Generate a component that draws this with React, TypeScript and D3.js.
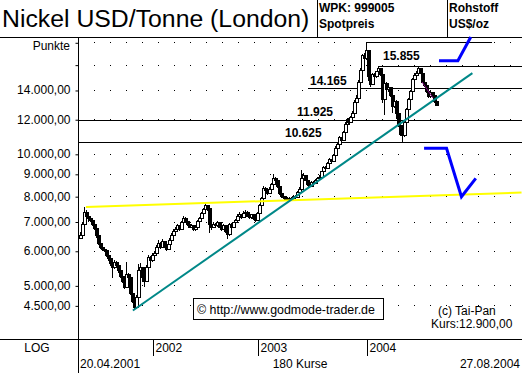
import React from 'react';
import * as d3 from 'd3';

// Nickel USD/Tonne (London), weekly, 20.04.2001 - 27.08.2004, 180 Kurse
const firstOpen = 6400;
const closes = [
  6500, 6900, 7350, 7200, 7100, 7050, 6900, 6750, 6500, 6250,
  6100, 6050, 6000, 5850, 5750, 5600, 5500, 5650, 5550, 5400,
  5250, 5100, 4950, 5300, 5200, 4800, 4600, 4450, 4700, 5400,
  5500, 5200, 5100, 5500, 5800, 5700, 5850, 5900, 6100, 6250,
  6100, 6300, 6150, 6050, 6200, 6350, 6500, 6650, 6700, 6850,
  6700, 6950, 7100, 7000, 6900, 6800, 6850, 6700, 6800, 7000,
  7100, 7300, 7450, 7600, 7500, 6900, 6800, 6900, 6850, 6950,
  6800, 6700, 6850, 6650, 6550, 6900, 6800, 6950, 7050, 7200,
  7250, 7150, 7300, 7350, 7200, 7150, 7250, 7100, 7050, 7300,
  7600, 7900, 8350, 8250, 8100, 8300, 8500, 8800, 8700, 8400,
  8100, 8000, 7950, 7850, 7900, 7800, 7900, 8000, 7950, 8150,
  8300, 8800, 8900, 8700, 8500, 8400, 8600, 8550, 8700, 8800,
  8850, 9100, 9300, 9250, 9500, 9700, 9600, 9900, 10300, 10500,
  10900, 10750, 11200, 11700, 12000, 11800, 12100, 12400, 13100, 13400,
  14600, 15500, 16800, 16500, 17200, 15000, 14400, 15200, 15000, 15400,
  15700, 15200, 13300, 14500, 14000, 14200, 13600, 12800, 13200, 12400,
  11600, 11100, 11000, 11800, 12600, 13300, 13900, 14800, 15100, 15300,
  15700, 15300, 14600, 14300, 13900, 13500, 13800, 13600, 13200, 12900,
];
const highs = [
  6620, 6980, 7550, 7420, 7250, 7180, 7080, 6920, 6780, 6520,
  6280, 6150, 6100, 6020, 5900, 5780, 5650, 5720, 5700, 5580,
  5420, 5280, 5120, 5650, 5350, 5220, 4850, 4650, 4750, 5600,
  5620, 5520, 5250, 5560, 5880, 5850, 5920, 6000, 6180, 6350,
  6280, 6380, 6320, 6200, 6260, 6420, 6580, 6720, 6800, 6920,
  6880, 7020, 7200, 7150, 7050, 6950, 6920, 6880, 6850, 7050,
  7180, 7350, 7520, 7700, 7650, 7520, 6980, 6980, 6950, 7020,
  6980, 6850, 6900, 6880, 6700, 6950, 6950, 7000, 7100, 7280,
  7350, 7300, 7380, 7420, 7380, 7250, 7300, 7280, 7150, 7350,
  7680, 7980, 8420, 8400, 8300, 8380, 8580, 9000, 8850, 8750,
  8450, 8150, 8050, 8000, 7980, 7950, 7960, 8050, 8050, 8200,
  8380, 9200, 9050, 8950, 8750, 8550, 8650, 8650, 8750, 8850,
  8950, 9150, 9380, 9400, 9560, 9780, 9750, 9980, 10400, 10600,
  11000, 10950, 11300, 11800, 12100, 12050, 12200, 12500, 13250, 13600,
  14750, 15700, 16900, 17000, 18000, 17300, 15100, 15300, 15300, 15500,
  15855, 15750, 15250, 14600, 14600, 14300, 14250, 13650, 13300, 13250,
  12450, 11700, 11300, 11900, 12700, 13400, 14000, 14900, 15300, 15500,
  15855, 15750, 15350, 14700, 14350, 13950, 13900, 13850, 13650, 13250,
];
const lows = [
  6380, 6450, 6850, 7100, 7000, 6980, 6850, 6700, 6420, 6200,
  6050, 5980, 5950, 5800, 5700, 5550, 5200, 5450, 5480, 5350,
  5200, 5050, 4900, 4920, 5050, 4750, 4550, 4400, 4420, 4680,
  5300, 5100, 4950, 5080, 5450, 5620, 5650, 5800, 5880, 6050,
  6050, 6080, 6100, 5980, 6020, 6180, 6320, 6480, 6600, 6680,
  6650, 6680, 6920, 6950, 6850, 6750, 6750, 6650, 6650, 6780,
  6950, 7080, 7280, 7420, 7400, 6600, 6700, 6750, 6780, 6800,
  6750, 6650, 6680, 6600, 6400, 6500, 6750, 6780, 6920, 7020,
  7150, 7100, 7120, 7250, 7150, 7080, 7100, 7050, 6980, 7020,
  7280, 7580, 7880, 8150, 8050, 8080, 8280, 8480, 8600, 8350,
  8050, 7920, 7880, 7780, 7800, 7750, 7780, 7880, 7900, 7920,
  8120, 8280, 8750, 8650, 8450, 8350, 8380, 8480, 8520, 8680,
  8750, 8820, 9080, 9150, 9220, 9450, 9500, 9580, 9880, 10250,
  10450, 10600, 10700, 11150, 11650, 11700, 11750, 12050, 12350, 13000,
  13350, 14500, 15400, 16300, 16400, 14700, 14200, 14350, 14850, 14950,
  15350, 15100, 13100, 12300, 13900, 13850, 13500, 12400, 12750, 12000,
  11500, 11000, 10625, 10950, 11750, 12550, 13250, 13850, 14750, 15050,
  15250, 15200, 14500, 14200, 13800, 13400, 13450, 13500, 13100, 12850,
];

// y axis
const tickValues = [18000, 16000, 14000, 12000, 10000, 9000, 8000, 7000, 6000, 5000, 4500];
const tickLabels = ['', '', '14.000,00', '12.000,00', '10.000,00', '9.000,00',
  '8.000,00', '7.000,00', '6.000,00', '5.000,00', '4.500,00'];

// marked price levels (start / end as candle index, null = from the axis)
const levelValues = [18000, 15855, 14165, 11925, 10625];
const levelLabels = ['', '15.855', '14.165', '11.925', '10.625'];
const levelStart = [144, 150, 114, null, null];
const levelEnd = [207, 222, 222, 222, 222];

// years on the time bar
const yearLabels = ['2002', '2003', '2004'];
const yearIndex = [36.7, 89.4, 144.2];

// drawn lines: [candle index, price]
const tealLine = [[26.6, 4380], [197.3, 15300]];
const yellowLine = [[3, 7555], [222, 8155]];
const purpleLine = [[172, 14600], [177.5, 13420]];
const blueUp = [[180.5, 16330], [190, 16330], [196.5, 18508]];
const blueDown = [[173, 10295], [184.3, 10295], [191.8, 7974], [199, 8789]];

const FONT = 'Arial, "Liberation Sans", sans-serif';

export default class App extends React.Component {
  svgRef = React.createRef<SVGSVGElement>();

  componentDidMount(): void {
    this.drawChart();
  }

  render() {
    return (
      <svg ref={this.svgRef} width={522} height={373}
        style={{position: 'absolute', left: 0, top: 0, background: '#fff'}}>
      </svg>
    );
  }

  drawChart() {
    const width = 522;
    const axisX = 78.5;
    const plotTop = 37;
    const plotBottom = 339;

    const svg = d3.select(this.svgRef.current);
    svg.selectAll('*').remove();
    svg.style('font-family', FONT);

    const x = d3.scaleLinear()
        .domain([0, closes.length - 1])
        .range([80, 436]);
    const y = d3.scaleLog()
        .domain([3769, 18508])
        .range([plotBottom, plotTop]);
    const px = (i: number) => Math.round(x(i)) + 0.5;
    const py = (v: number) => Math.round(y(v)) + 0.5;

    svg.append('rect')
        .attr('width', width)
        .attr('height', 373)
        .attr('fill', '#fff');

    // header
    svg.append('text')
        .attr('x', 2)
        .attr('y', 27)
        .attr('font-size', 24.8)
        .text('Nickel USD/Tonne (London)');
    const header = [['WPK: 999005', 319, 11.5], ['Spotpreis', 319, 28],
      ['Rohstoff', 449, 11.5], ['US$/oz', 449, 28]];
    header.forEach((h: any) => {
      svg.append('text')
          .attr('x', h[1])
          .attr('y', h[2])
          .attr('font-size', 12)
          .attr('font-weight', 'bold')
          .text(h[0]);
    });
    [317.5, 447.5].forEach((sx) => {
      svg.append('line')
          .attr('x1', sx).attr('x2', sx)
          .attr('y1', 0).attr('y2', plotTop)
          .attr('stroke', '#000');
    });
    svg.append('line')
        .attr('x1', 0).attr('x2', width)
        .attr('y1', plotTop + 0.5).attr('y2', plotTop + 0.5)
        .attr('stroke', '#000');

    // dotted grid rows
    tickValues.forEach((v) => {
      svg.append('line')
          .attr('x1', 94).attr('x2', width)
          .attr('y1', py(v)).attr('y2', py(v))
          .attr('stroke', '#000')
          .attr('stroke-dasharray', '1 15');
    });

    // price levels
    levelValues.forEach((v, k) => {
      const x1 = levelStart[k] === null ? axisX : px(levelStart[k] as number);
      svg.append('line')
          .attr('x1', x1).attr('x2', Math.min(width, x(levelEnd[k])))
          .attr('y1', py(v)).attr('y2', py(v))
          .attr('stroke', '#000')
          .attr('shape-rendering', 'crispEdges');
    });

    // candles, hollow = up week, filled = down week
    const candles = svg.append('g').attr('shape-rendering', 'crispEdges');
    closes.forEach((c, i) => {
      const o = i === 0 ? firstOpen : closes[i - 1];
      const cx = px(i);
      candles.append('line')
          .attr('x1', cx).attr('x2', cx)
          .attr('y1', y(highs[i])).attr('y2', y(lows[i]))
          .attr('stroke', '#000');
      const top = y(Math.max(o, c));
      const bottom = y(Math.min(o, c));
      candles.append('rect')
          .attr('x', cx - 1.5)
          .attr('y', top)
          .attr('width', 3)
          .attr('height', Math.max(1, bottom - top))
          .attr('fill', c >= o ? '#fff' : '#000')
          .attr('stroke', '#000');
    });

    const line = d3.line<number[]>()
        .x((d) => x(d[0]))
        .y((d) => y(d[1]));
    const drawLine = (pts: number[][], color: string, w: number) => {
      svg.append('path')
          .attr('d', line(pts))
          .attr('fill', 'none')
          .attr('stroke', color)
          .attr('stroke-width', w);
    };
    drawLine(yellowLine, '#ffff00', 2);
    drawLine(tealLine, '#008888', 2);
    drawLine(purpleLine, '#800080', 1);
    drawLine(blueUp, '#0000ff', 3);
    drawLine(blueDown, '#0000ff', 3);

    // level labels
    const labelPos = [[0, 0], [383, 60], [310, 85], [297, 116], [285, 137]];
    levelLabels.forEach((t, k) => {
      if (!t) return;
      svg.append('text')
          .attr('x', labelPos[k][0])
          .attr('y', labelPos[k][1])
          .attr('font-size', 12)
          .attr('font-weight', 'bold')
          .text(t);
    });

    // copyright and price
    svg.append('rect')
        .attr('x', 193.5).attr('y', 298.5)
        .attr('width', 190).attr('height', 21)
        .attr('fill', '#fff')
        .attr('stroke', '#000');
    svg.append('text')
        .attr('x', 197).attr('y', 314)
        .attr('font-size', 12.4)
        .text('\u00a9 http://www.godmode-trader.de');
    svg.append('text')
        .attr('x', 438).attr('y', 315)
        .attr('font-size', 12)
        .text('(c) Tai-Pan');
    svg.append('text')
        .attr('x', 431).attr('y', 328)
        .attr('font-size', 12)
        .text('Kurs:12.900,00');

    // y axis
    const yAxis = svg.append('g')
        .attr('transform', `translate(${axisX},0)`)
        .call(d3.axisLeft(y)
            .tickValues(tickValues)
            .tickSize(3)
            .tickPadding(5)
            .tickFormat((d, i) => tickLabels[i]));
    yAxis.select('.domain').remove();
    yAxis.selectAll('line')
        .attr('transform', 'translate(0,0.5)')
        .attr('stroke', '#000');
    yAxis.selectAll('text')
        .attr('font-family', FONT)
        .attr('font-size', 12)
        .attr('fill', '#000');
    svg.append('line')
        .attr('x1', axisX).attr('x2', axisX)
        .attr('y1', plotTop).attr('y2', 373)
        .attr('stroke', '#000');
    svg.append('text')
        .attr('x', 70).attr('y', 50)
        .attr('text-anchor', 'end')
        .attr('font-size', 12)
        .text('Punkte');

    // time bar
    svg.append('line')
        .attr('x1', 0).attr('x2', width)
        .attr('y1', plotBottom + 0.5).attr('y2', plotBottom + 0.5)
        .attr('stroke', '#000');
    svg.append('text')
        .attr('x', 37).attr('y', 352)
        .attr('text-anchor', 'middle')
        .attr('font-size', 12)
        .text('LOG');
    yearLabels.forEach((t, k) => {
      const yx = px(yearIndex[k]);
      svg.append('line')
          .attr('x1', yx).attr('x2', yx)
          .attr('y1', plotBottom).attr('y2', 356)
          .attr('stroke', '#000');
      svg.append('text')
          .attr('x', yx + 2).attr('y', 352)
          .attr('font-size', 12)
          .text(t);
    });
    svg.append('text')
        .attr('x', 80).attr('y', 368)
        .attr('font-size', 12)
        .text('20.04.2001');
    svg.append('text')
        .attr('x', 300).attr('y', 368)
        .attr('text-anchor', 'middle')
        .attr('font-size', 12)
        .text(closes.length + ' Kurse');
    svg.append('text')
        .attr('x', 520).attr('y', 368)
        .attr('text-anchor', 'end')
        .attr('font-size', 12)
        .text('27.08.2004');
  }
}
